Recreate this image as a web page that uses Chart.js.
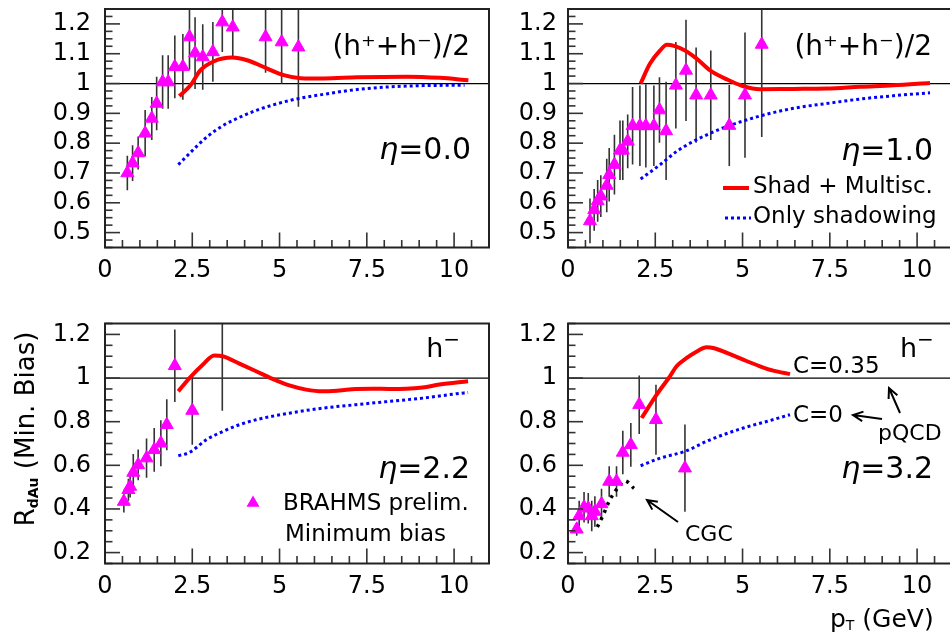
<!DOCTYPE html>
<html>
<head>
<meta charset="utf-8">
<script src="https://cdn.jsdelivr.net/npm/chart.js@4/dist/chart.umd.min.js"></script>
<style>
html, body { margin: 0; padding: 0; background: #fff; width: 950px; height: 637px; overflow: hidden; position: relative; }
canvas { position: absolute; }
</style>
</head>
<body>
<canvas id="p1" width="505" height="290" style="left:0;top:0"></canvas>
<canvas id="p2" width="460" height="290" style="left:505px;top:0"></canvas>
<canvas id="p3" width="505" height="347" style="left:0;top:290px"></canvas>
<canvas id="p4" width="460" height="347" style="left:505px;top:290px"></canvas>
<script>
// axis ticks
const xTicks = [0, 2.5, 5, 7.5, 10];
const yTicksTop = [0.5, 0.6, 0.7, 0.8, 0.9, 1, 1.1, 1.2];
const yTicksBottom = [0.2, 0.4, 0.6, 0.8, 1, 1.2];

// eta = 0.0, (h+ + h-)/2
const p1Pt  = [0.64, 0.79, 0.95, 1.15, 1.34, 1.48, 1.65, 1.81, 2.0, 2.23, 2.42, 2.58, 2.8, 3.09, 3.36, 3.66, 4.6, 5.06, 5.54];
const p1R   = [0.70, 0.733, 0.767, 0.833, 0.883, 0.933, 1.005, 1.005, 1.056, 1.056, 1.156, 1.102, 1.089, 1.106, 1.206, 1.189, 1.156, 1.139, 1.122];
const p1Err = [0.058, 0.06, 0.055, 0.078, 0.072, 0.09, 0.09, 0.09, 0.105, 0.11, 0.11, 0.12, 0.11, 0.1, 0.1, 0.1, 0.12, 0.14, 0.2];
const p1MultPt = [2.13, 2.45, 2.73, 3.11, 3.64, 4.07, 4.65, 5.12, 5.6, 6.27, 7.22, 8.65, 9.6, 10.41];
const p1MultR  = [0.958, 0.994, 1.044, 1.074, 1.087, 1.078, 1.05, 1.028, 1.018, 1.017, 1.021, 1.023, 1.019, 1.011];
const p1ShadPt = [2.1, 2.45, 2.93, 3.41, 3.69, 4.36, 5.32, 6.27, 7.22, 8.17, 9.12, 10.07, 10.3];
const p1ShadR  = [0.728, 0.769, 0.822, 0.861, 0.878, 0.911, 0.944, 0.964, 0.98, 0.989, 0.993, 0.994, 0.994];

// eta = 1.0, (h+ + h-)/2
const p2Pt  = [0.63, 0.75, 0.85, 0.94, 1.11, 1.18, 1.33, 1.49, 1.57, 1.71, 1.85, 2.06, 2.23, 2.46, 2.62, 2.81, 3.09, 3.38, 3.67, 4.09, 4.62, 5.07, 5.55];
const p2R   = [0.539, 0.576, 0.606, 0.622, 0.658, 0.694, 0.728, 0.776, 0.776, 0.806, 0.858, 0.858, 0.858, 0.858, 0.911, 0.841, 0.994, 1.044, 0.961, 0.961, 0.859, 0.961, 1.131];
const p2Err = [0.075, 0.07, 0.07, 0.07, 0.09, 0.09, 0.1, 0.1, 0.1, 0.09, 0.13, 0.135, 0.14, 0.135, 0.11, 0.165, 0.145, 0.17, 0.16, 0.15, 0.136, 0.21, 0.31];
const p2MultPt = [2.08, 2.35, 2.64, 2.83, 3.35, 3.69, 4.07, 4.55, 5.02, 5.5, 6.46, 7.41, 8.37, 9.32, 10.37];
const p2MultR  = [1.0, 1.067, 1.111, 1.13, 1.111, 1.083, 1.044, 1.014, 0.991, 0.981, 0.982, 0.983, 0.989, 0.994, 1.002];
const p2ShadPt = [2.08, 2.64, 3.11, 3.59, 4.07, 4.55, 5.5, 6.46, 7.41, 8.37, 9.32, 10.37];
const p2ShadR  = [0.68, 0.728, 0.772, 0.806, 0.833, 0.856, 0.891, 0.917, 0.933, 0.948, 0.959, 0.969];

// eta = 2.2, h-
const p3Pt  = [0.54, 0.67, 0.72, 0.81, 0.95, 1.19, 1.41, 1.6, 1.77, 2.0, 2.5, 3.36];
const p3R   = [0.434, 0.488, 0.503, 0.567, 0.602, 0.633, 0.671, 0.701, 0.786, 1.056, 0.851, 1.32];
const p3Err = [0.05, 0.05, 0.05, 0.085, 0.07, 0.09, 0.1, 0.105, 0.117, 0.166, 0.157, 0.47];
const p3MultPt = [2.1, 2.42, 2.8, 3.13, 3.37, 3.85, 4.33, 4.8, 5.28, 5.76, 6.23, 6.71, 7.19, 7.67, 8.15, 8.63, 9.1, 9.58, 10.4];
const p3MultR  = [0.939, 1.0, 1.061, 1.103, 1.1, 1.066, 1.031, 0.996, 0.966, 0.947, 0.939, 0.943, 0.95, 0.951, 0.95, 0.951, 0.957, 0.97, 0.985];
const p3ShadPt = [2.1, 2.42, 2.9, 3.37, 3.85, 4.33, 5.28, 6.23, 7.19, 8.15, 9.1, 10.07, 10.4];
const p3ShadR  = [0.644, 0.659, 0.717, 0.755, 0.786, 0.809, 0.839, 0.862, 0.878, 0.893, 0.908, 0.928, 0.934];

// eta = 3.2, h-
const p4Pt  = [0.25, 0.32, 0.46, 0.58, 0.68, 0.77, 0.96, 1.18, 1.39, 1.57, 1.8, 2.04, 2.52, 3.35];
const p4R   = [0.307, 0.368, 0.408, 0.403, 0.368, 0.388, 0.423, 0.526, 0.526, 0.659, 0.694, 0.878, 0.809, 0.587];
const p4Err = [0.03, 0.07, 0.07, 0.07, 0.07, 0.07, 0.07, 0.07, 0.07, 0.1, 0.1, 0.134, 0.16, 0.2];
const p4MultPt = [2.11, 2.54, 2.92, 3.11, 3.4, 3.69, 3.97, 4.16, 4.55, 5.02, 5.5, 5.88, 6.36];
const p4MultR  = [0.817, 0.924, 1.008, 1.054, 1.092, 1.122, 1.141, 1.138, 1.115, 1.084, 1.054, 1.034, 1.018];
const p4ShadPt = [2.08, 2.64, 3.35, 4.07, 5.02, 5.69, 6.36];
const p4ShadR  = [0.598, 0.633, 0.664, 0.717, 0.771, 0.801, 0.832];
const p4CgcPt = [0.84, 1.01, 1.2, 1.44, 1.63, 1.89];
const p4CgcR  = [0.317, 0.373, 0.442, 0.5, 0.529, 0.494];

const FONT = '"DejaVu Sans", sans-serif';
const font = (size, style) => `${style || ''} ${size}px ${FONT}`;
const pts = (xs, ys) => xs.map((x, i) => ({x: x, y: ys[i]}));

function drawTriangle(ctx, x, y, r) {
    ctx.beginPath();
    ctx.moveTo(x, y - r);
    ctx.lineTo(x + r * 0.866, y + r / 2);
    ctx.lineTo(x - r * 0.866, y + r / 2);
    ctx.closePath();
    ctx.fillStyle = '#ff00ff';
    ctx.fill();
}

function drawRuns(ctx, runs, x, y, align) {
    const widths = runs.map(r => { ctx.font = font(r.s, r.st); return ctx.measureText(r.t).width; });
    const total = widths.reduce((a, b) => a + b, 0);
    let cx = align === 'right' ? x - total : align === 'center' ? x - total / 2 : x;
    ctx.fillStyle = '#000';
    ctx.textAlign = 'left';
    ctx.textBaseline = 'middle';
    runs.forEach((r, i) => {
        ctx.font = font(r.s, r.st);
        ctx.fillText(r.t, cx, y + (r.dy || 0));
        cx += widths[i];
    });
}

function drawArrow(ctx, x0, y0, x1, y1) {
    const ang = Math.atan2(y1 - y0, x1 - x0);
    ctx.strokeStyle = '#000';
    ctx.lineWidth = 2;
    ctx.beginPath();
    ctx.moveTo(x0, y0);
    ctx.lineTo(x1, y1);
    ctx.moveTo(x1 - 11 * Math.cos(ang - 0.45), y1 - 11 * Math.sin(ang - 0.45));
    ctx.lineTo(x1, y1);
    ctx.lineTo(x1 - 11 * Math.cos(ang + 0.45), y1 - 11 * Math.sin(ang + 0.45));
    ctx.stroke();
}

function makePanel(id, cfg) {
    const datasets = [
        {data: pts(cfg.pt, cfg.r), pointStyle: 'triangle', pointRadius: 7.5,
         backgroundColor: '#ff00ff', borderColor: '#ff00ff', borderWidth: 1},
        {type: 'line', data: pts(cfg.multPt, cfg.multR), borderColor: '#ff0000', borderWidth: 4,
         pointRadius: 0, fill: false, cubicInterpolationMode: 'monotone'},
        {type: 'line', data: pts(cfg.shadPt, cfg.shadR), borderColor: '#0000ff', borderWidth: 3,
         borderDash: [3, 3], pointRadius: 0, fill: false, cubicInterpolationMode: 'monotone'}
    ];
    if (cfg.cgcPt) {
        datasets.push({type: 'line', data: pts(cfg.cgcPt, cfg.cgcR), borderColor: '#000', borderWidth: 3.5,
            borderDash: [3, 5], pointRadius: 0, fill: false, cubicInterpolationMode: 'monotone'});
    }

    const frame = {
        id: 'frame',
        beforeDatasetsDraw(chart) {
            const {ctx, chartArea: a, scales: {x, y}} = chart;
            ctx.save();
            ctx.beginPath();
            ctx.rect(a.left, a.top, a.right - a.left, a.bottom - a.top);
            ctx.clip();
            const y1 = y.getPixelForValue(1);
            ctx.strokeStyle = '#000';
            ctx.lineWidth = 1.2;
            ctx.beginPath();
            ctx.moveTo(a.left, y1);
            ctx.lineTo(a.right, y1);
            ctx.stroke();
            ctx.strokeStyle = '#333';
            ctx.lineWidth = 1.6;
            cfg.pt.forEach((v, i) => {
                const px = x.getPixelForValue(v);
                ctx.beginPath();
                ctx.moveTo(px, y.getPixelForValue(cfg.r[i] - cfg.err[i]));
                ctx.lineTo(px, y.getPixelForValue(cfg.r[i] + cfg.err[i]));
                ctx.stroke();
            });
            ctx.restore();
        },
        afterDraw(chart) {
            const {ctx, chartArea: a, scales: {x, y}} = chart;
            ctx.save();
            ctx.strokeStyle = '#333';
            ctx.lineWidth = 1.6;
            for (let i = 0; i <= 22; i++) {
                const v = i * 0.5;
                const px = x.getPixelForValue(v);
                if (px > a.right) break;
                const len = i % 5 === 0 ? 15 : 7.5;
                ctx.beginPath();
                ctx.moveTo(px, a.bottom);
                ctx.lineTo(px, a.bottom - len);
                ctx.stroke();
            }
            for (let i = 0; ; i++) {
                const v = cfg.yMin + i * cfg.yMinor;
                if (v > cfg.yMax + 1e-9) break;
                const major = cfg.yTicks.some(t => Math.abs(t - v) < 1e-6);
                const py = y.getPixelForValue(v);
                ctx.beginPath();
                ctx.moveTo(a.left, py);
                ctx.lineTo(a.left + (major ? 15 : 7.5), py);
                ctx.stroke();
            }
            ctx.strokeStyle = '#222';
            ctx.lineWidth = 2;
            ctx.strokeRect(a.left, a.top, a.right - a.left, a.bottom - a.top);
            cfg.decor(ctx);
            ctx.restore();
        }
    };

    return new Chart(document.getElementById(id), {
        type: 'scatter',
        data: {datasets: datasets},
        options: {
            responsive: false,
            animation: false,
            devicePixelRatio: 1,
            layout: {padding: {top: cfg.padTop, right: cfg.padRight, left: 0, bottom: 0}},
            plugins: {legend: {display: false}, tooltip: {enabled: false}},
            scales: {
                x: {
                    type: 'linear', min: 0, max: 11,
                    grid: {display: false, drawTicks: false},
                    border: {display: false},
                    afterBuildTicks: s => { s.ticks = xTicks.map(v => ({value: v})); },
                    afterFit: s => { s.height = cfg.xAxisH; s.paddingLeft = 0; s.paddingRight = 0; },
                    ticks: {font: {family: FONT, size: 24}, color: '#000', padding: 9,
                            autoSkip: false, maxRotation: 0, callback: v => String(v)}
                },
                y: {
                    type: 'linear', min: cfg.yMin, max: cfg.yMax,
                    grid: {display: false, drawTicks: false},
                    border: {display: false},
                    afterBuildTicks: s => { s.ticks = cfg.yTicks.map(v => ({value: v})); },
                    afterFit: s => { s.width = cfg.yAxisW; s.paddingTop = 0; s.paddingBottom = 0; },
                    ticks: {font: {family: FONT, size: 24}, color: '#000', padding: cfg.tickPad,
                            autoSkip: false, callback: v => String(Math.round(v * 100) / 100)}
                }
            }
        },
        plugins: [frame]
    });
}

const eta = v => [{t: 'η', s: 30, st: 'italic'}, {t: '=' + v, s: 30}];
const hMinus = [{t: 'h', s: 27}, {t: '−', s: 20, dy: -9}];

makePanel('p1', {
    pt: p1Pt, r: p1R, err: p1Err, multPt: p1MultPt, multR: p1MultR, shadPt: p1ShadPt, shadR: p1ShadR,
    yMin: 0.45, yMax: 1.25, yTicks: yTicksTop, yMinor: 0.025,
    yAxisW: 105, tickPad: 14, padTop: 9, padRight: 16, xAxisH: 42.5,
    decor: ctx => {
        drawRuns(ctx, [{t: '(h⁺+h⁻)/2', s: 28}], 470, 48, 'right');
        drawRuns(ctx, eta('0.0'), 471, 151, 'right');
    }
});

makePanel('p2', {
    pt: p2Pt, r: p2R, err: p2Err, multPt: p2MultPt, multR: p2MultR, shadPt: p2ShadPt, shadR: p2ShadR,
    yMin: 0.45, yMax: 1.25, yTicks: yTicksTop, yMinor: 0.025,
    yAxisW: 63, tickPad: 11, padTop: 9, padRight: 13, xAxisH: 42.5,
    decor: ctx => {
        drawRuns(ctx, [{t: '(h⁺+h⁻)/2', s: 28}], 427, 48, 'right');
        drawRuns(ctx, eta('1.0'), 428, 152, 'right');
        ctx.strokeStyle = '#ff0000';
        ctx.lineWidth = 4;
        ctx.beginPath(); ctx.moveTo(218, 188); ctx.lineTo(244, 188); ctx.stroke();
        drawRuns(ctx, [{t: 'Shad + Multisc.', s: 23}], 248, 187, 'left');
        ctx.strokeStyle = '#0000ff';
        ctx.lineWidth = 3;
        ctx.setLineDash([3, 3]);
        ctx.beginPath(); ctx.moveTo(220, 218); ctx.lineTo(246, 218); ctx.stroke();
        ctx.setLineDash([]);
        drawRuns(ctx, [{t: 'Only shadowing', s: 23}], 248, 217, 'left');
    }
});

makePanel('p3', {
    pt: p3Pt, r: p3R, err: p3Err, multPt: p3MultPt, multR: p3MultR, shadPt: p3ShadPt, shadR: p3ShadR,
    yMin: 0.15, yMax: 1.25, yTicks: yTicksBottom, yMinor: 0.05,
    yAxisW: 105, tickPad: 14, padTop: 33.5, padRight: 16, xAxisH: 73.5,
    decor: ctx => {
        drawRuns(ctx, hMinus, 460, 60, 'right');
        drawRuns(ctx, eta('2.2'), 470, 180, 'right');
        drawTriangle(ctx, 253, 213, 7.5);
        drawRuns(ctx, [{t: 'BRAHMS prelim.', s: 23}], 283, 214, 'left');
        drawRuns(ctx, [{t: 'Minimum bias', s: 23}], 285, 245, 'left');
        ctx.save();
        ctx.translate(27, 139);
        ctx.rotate(-Math.PI / 2);
        drawRuns(ctx, [{t: 'R', s: 26}, {t: 'dAu', s: 14, st: 'bold', dy: 7}, {t: ' (Min. Bias)', s: 26}], 0, 0, 'center');
        ctx.restore();
    }
});

makePanel('p4', {
    pt: p4Pt, r: p4R, err: p4Err, multPt: p4MultPt, multR: p4MultR, shadPt: p4ShadPt, shadR: p4ShadR,
    cgcPt: p4CgcPt, cgcR: p4CgcR,
    yMin: 0.15, yMax: 1.25, yTicks: yTicksBottom, yMinor: 0.05,
    yAxisW: 63, tickPad: 11, padTop: 33.5, padRight: 13, xAxisH: 73.5,
    decor: ctx => {
        drawRuns(ctx, hMinus, 395, 60, 'left');
        drawRuns(ctx, [{t: 'C=0.35', s: 23}], 288, 77, 'left');
        drawRuns(ctx, [{t: 'C=0', s: 23}], 288, 126, 'left');
        drawArrow(ctx, 377, 129, 348, 125);
        drawRuns(ctx, [{t: 'pQCD', s: 22}], 373, 144, 'left');
        drawArrow(ctx, 395, 123, 384, 98);
        drawRuns(ctx, eta('3.2'), 428, 180, 'right');
        drawArrow(ctx, 173, 232, 142, 210);
        drawRuns(ctx, [{t: 'CGC', s: 22}], 180, 245, 'left');
        drawRuns(ctx, [{t: 'p', s: 25}, {t: 'T', s: 14, dy: 6}, {t: ' (GeV)', s: 25}], 325, 330, 'left');
    }
});
</script>
</body>
</html>
